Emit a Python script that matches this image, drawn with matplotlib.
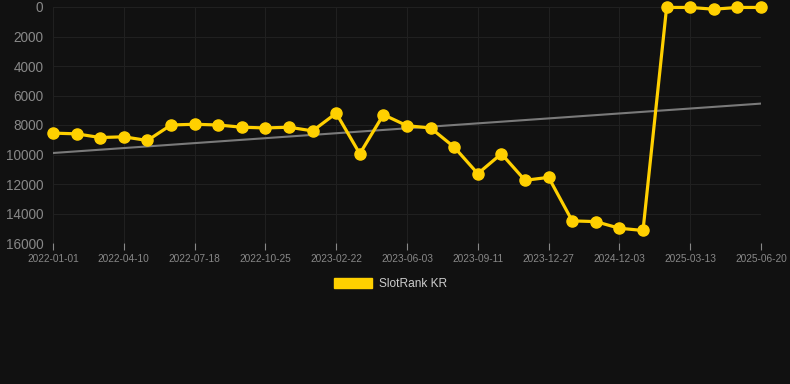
import numpy as np
import matplotlib
matplotlib.use("Agg")
import matplotlib.pyplot as plt
from matplotlib.patches import Patch

plt.rcParams['font.family'] = ['Liberation Sans', 'DejaVu Sans']

# rank values (lower is better), one per snapshot
rank_values = [8550, 8600, 8850, 8800, 9050, 8000, 7950, 8000, 8150, 8200,
               8150, 8400, 7200, 9950, 7300, 8050, 8200, 9500, 11300, 9950,
               11750, 11550, 14500, 14550, 15000, 15150, 30, 30, 150, 30, 30]
tick_labels = ['2022-01-01', '2022-04-10', '2022-07-18', '2022-10-25',
               '2023-02-22', '2023-06-03', '2023-09-11', '2023-12-27',
               '2024-12-03', '2025-03-13', '2025-06-20']
tick_step = 3
y_ticks = [0, 2000, 4000, 6000, 8000, 10000, 12000, 14000, 16000]

bg = '#111111'
yellow = '#ffd000'
grid_col = '#202020'
txt_col = '#888888'

x = np.arange(len(rank_values))
coef = np.polyfit(x, rank_values, 1)
trend = np.polyval(coef, x)

fig = plt.figure(figsize=(7.9, 3.84), dpi=100, facecolor=bg)
ax = fig.add_axes([53 / 790, 1 - 243 / 384, (761 - 53) / 790, (243 - 7) / 384])
ax.set_facecolor(bg)

ax.plot(x, trend, color='#7a7a7a', lw=1.5, zorder=2)
ax.plot(x, rank_values, color=yellow, lw=2.3, marker='o', markersize=8,
        markerfacecolor=yellow, markeredgecolor=yellow, zorder=3, clip_on=False)

ax.set_xlim(0, len(rank_values) - 1)
ax.set_ylim(16000, 0)
ax.set_yticks(y_ticks)
ax.set_yticklabels([str(v) for v in y_ticks])
ax.set_xticks(x[::tick_step])
ax.set_xticklabels(tick_labels)

ax.grid(True, color=grid_col, lw=0.8)
ax.set_axisbelow(True)
for s in ax.spines.values():
    s.set_visible(False)
ax.tick_params(axis='y', colors=txt_col, labelsize=9.8, length=0, pad=7)
ax.tick_params(axis='x', colors=txt_col, labelsize=7.3, length=5, width=0.8,
               pad=3)
for t in ax.xaxis.get_ticklines():
    t.set_color(grid_col)
for lab in ax.get_xticklabels():
    lab.set_color(txt_col)

handle = Patch(facecolor=yellow, edgecolor=yellow)
fig.legend([handle], ['SlotRank KR'], loc='center', bbox_to_anchor=(0.494, 1 - 284 / 384),
           frameon=False, handlelength=3.2, handleheight=0.95, handletextpad=0.55,
           labelcolor='#cccccc', fontsize=8.6)

fig.savefig('out.png', dpi=100, facecolor=bg)
